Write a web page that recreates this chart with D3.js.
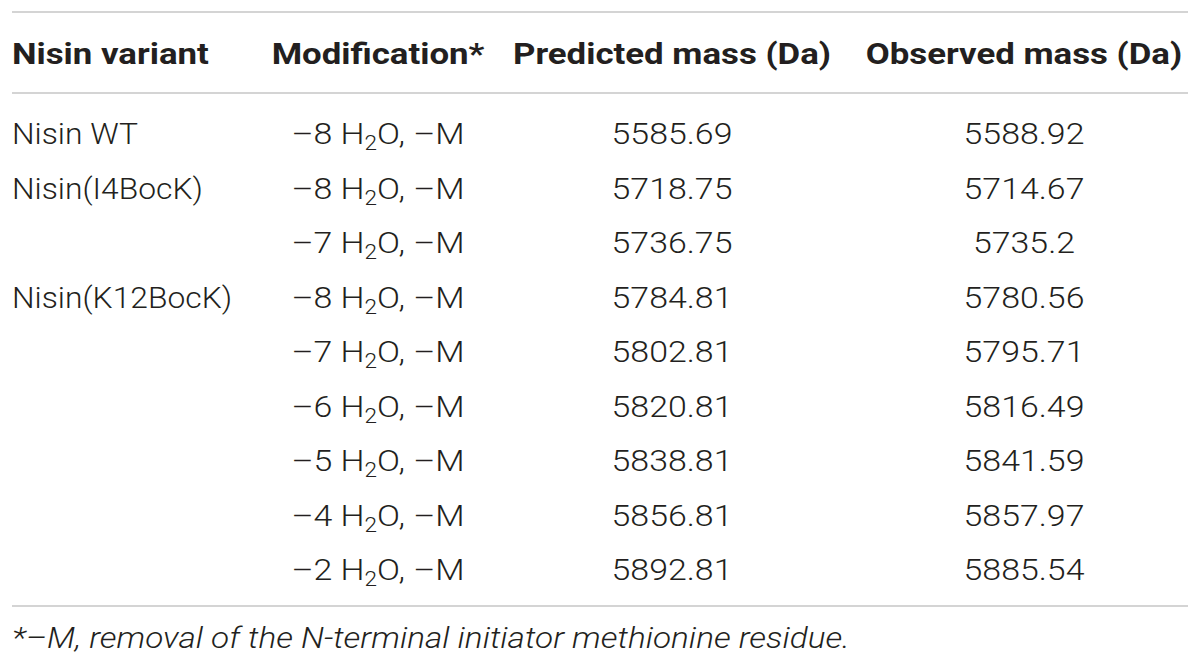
<!DOCTYPE html>
<html>
<head>
<meta charset="utf-8">
<script src="https://cdn.jsdelivr.net/npm/d3@7"></script>
<style>
  body { margin: 0; background: #fff; }
</style>
</head>
<body>
<script>
// table contents
const headers = ["Nisin variant", "Modification*", "Predicted mass (Da)", "Observed mass (Da)"];
const variants = ["Nisin WT", "Nisin(I4BocK)", "", "Nisin(K12BocK)", "", "", "", "", ""];
const waterLoss = [8, 8, 7, 8, 7, 6, 5, 4, 2];
const predicted = ["5585.69", "5718.75", "5736.75", "5784.81", "5802.81", "5820.81", "5838.81", "5856.81", "5892.81"];
const observed = ["5588.92", "5714.67", "5735.2", "5780.56", "5795.71", "5816.49", "5841.59", "5857.97", "5885.54"];
const footnote = "*–M, removal of the N-terminal initiator methionine residue.";

const width = 1200, height = 667;
const bodyFont = "Roboto, 'Liberation Sans', sans-serif";
const textColor = "#231f20";
// the source face is wider than Roboto, stretch glyphs horizontally
const sxBody = 1.13, sxHead = 1.2;

const svg = d3.select("body").append("svg")
    .attr("width", width)
    .attr("height", height)
    .attr("viewBox", [0, 0, width, height]);

const rows = d3.range(variants.length);

const y = d3.scalePoint()
    .domain(rows)
    .range([144, 580]);

// column anchors: first column left aligned, rest centered
const cols = [
    {x: 12, anchor: "start"},
    {x: 378, anchor: "middle"},
    {x: 672, anchor: "middle"},
    {x: 1024, anchor: "middle"}
];

const place = (x, yy, sx) => `translate(${x},${yy}) scale(${sx},1)`;

const rule = (yy) => svg.append("line")
    .attr("x1", 12).attr("x2", 1188)
    .attr("y1", yy).attr("y2", yy)
    .attr("stroke", "#d4d4d4")
    .attr("stroke-width", 2);

rule(12);
rule(93);
rule(606);

svg.append("g")
    .selectAll("text")
    .data(headers)
    .join("text")
    .attr("transform", (d, i) => place(cols[i].x, 64, sxHead))
    .attr("text-anchor", (d, i) => cols[i].anchor)
    .attr("font-family", bodyFont)
    .attr("font-weight", 700)
    .attr("font-size", 29)
    .attr("fill", textColor)
    .text(d => d);

const body = svg.append("g")
    .attr("font-family", bodyFont)
    .attr("font-weight", 300)
    .attr("font-size", 30)
    .attr("fill", textColor);

body.selectAll(".variant")
    .data(rows)
    .join("text")
    .attr("class", "variant")
    .attr("transform", d => place(cols[0].x, y(d), 1.06))
    .text(d => variants[d]);

const mod = body.selectAll(".mod")
    .data(rows)
    .join("text")
    .attr("class", "mod")
    .attr("transform", d => place(cols[1].x, y(d), sxBody))
    .attr("text-anchor", "middle");
mod.append("tspan").text(d => `–${waterLoss[d]} H`);
mod.append("tspan").attr("font-size", 20).attr("dy", 6).text("2");
mod.append("tspan").attr("dy", -6).text("O, –M");

body.selectAll(".pred")
    .data(rows)
    .join("text")
    .attr("class", "pred")
    .attr("transform", d => place(cols[2].x, y(d), sxBody))
    .attr("text-anchor", "middle")
    .text(d => predicted[d]);

body.selectAll(".obs")
    .data(rows)
    .join("text")
    .attr("class", "obs")
    .attr("transform", d => place(cols[3].x, y(d), sxBody))
    .attr("text-anchor", "middle")
    .text(d => observed[d]);

svg.append("text")
    .attr("transform", place(12, 648, 1.15))
    .attr("font-family", bodyFont)
    .attr("font-weight", 300)
    .attr("font-style", "italic")
    .attr("font-size", 29)
    .attr("fill", textColor)
    .text(footnote);
</script>
</body>
</html>
